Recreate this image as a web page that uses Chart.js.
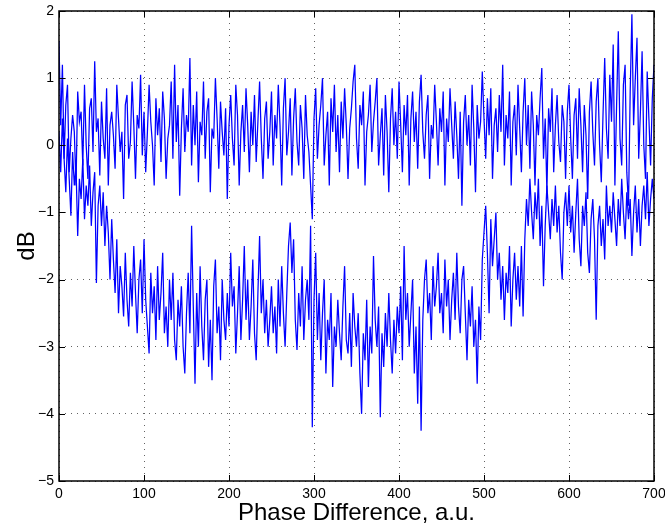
<!DOCTYPE html>
<html>
<head>
<meta charset="utf-8">
<script src="https://cdn.jsdelivr.net/npm/chart.js@4"></script>
<style>
  html, body { margin: 0; padding: 0; background: #fff; }
  #wrap { width: 665px; height: 529px; }
</style>
</head>
<body>
<div id="wrap"><canvas id="phasePlot"></canvas></div>
<script>
// x positions: one sample every 2 units of phase difference, from 0 to 700
const phaseStart = 0;
const phaseStep = 2;

// trace that stays around 0 dB
const upperDb = [
  1.55, 0.3, 1.2, -0.2, 0.6, 0.9, -0.4, 0.1, 0.45, 0.2, -0.6, 0.8, 0.35, 0.5, -0.3, 0.9, 0.0, -0.5, 0.55, 0.7, -0.1, 1.25, 0.2, 0.4, -0.45,
  0.65, 0.1, -0.2, 0.85, -0.6, 0.3, 0.5, 0.15, -0.35, 0.9, 0.4, -0.1, 0.2, -0.8, 0.6, 0.75, -0.2, 0.05, 0.95, 0.3, -0.5, 0.45, 0.25, 1.05, -0.15,
  0.5, -0.4, 0.2, 0.9, 0.35, 0.0, -0.6, 0.7, 0.15, 0.55, -0.25, 0.8, 0.4, -0.5, 0.1, 0.3, 0.95, -0.2, 1.2, 0.05, 0.6, -0.75, 0.25, 0.85, -0.1,
  0.45, 0.2, 1.3, -0.3, 0.6, 0.0, 0.8, -0.55, 0.35, 0.15, 0.95, -0.2, 0.5, 0.7, -0.7, 0.25, 0.1, 1.0, 0.4, -0.35, 0.65, 0.2, -0.15, 0.55, -0.8,
  0.3, 0.75, 0.1, -0.3, 0.9, 0.45, -0.6, 0.2, 0.6, -0.1, 0.85, 0.3, -0.4, 0.5, 0.0, 0.75, -0.25, 0.35, 0.95, 0.1, -0.5, 0.4, 0.65, -0.2, 0.2,
  0.8, -0.3, 0.45, 0.1, 0.9, 0.3, -0.6, 0.55, 1.0, -0.15, 0.2, 0.7, -0.45, 0.4, 0.85, 0.05, -0.3, 0.6, 0.25, -0.5, 0.75, 0.15, -0.1, -0.6, -1.1,
  0.4, 0.85, -0.2, 0.3, 0.6, 1.0, -0.3, 0.15, 0.5, -0.6, 0.7, 0.2, 0.9, -0.1, 0.45, -0.4, 0.65, 0.1, 0.85, 0.3, -0.5, 0.25, 0.55, 0.95, 1.2,
  0.1, -0.35, 0.6, 0.3, 0.8, -0.6, 0.2, 0.45, 0.9, -0.1, 0.35, 0.65, 1.0, -0.3, 0.15, 0.55, -0.45, 0.75, 0.2, -0.7, 0.4, 0.85, 0.0, 0.5, -0.2,
  0.95, 0.3, -0.4, 0.6, 0.15, 0.75, -0.6, 0.4, 0.8, 0.05, 0.5, -0.35, 0.65, 1.05, 0.2, -0.2, 0.45, 0.75, -0.5, 0.3, 0.1, 0.9, 0.35, -0.3, 0.55,
  0.2, 0.8, -0.6, 0.4, 0.05, 0.85, 0.3, -0.2, 0.65, 0.15, -0.5, 0.5, -0.9, 0.35, 0.75, 0.0, 0.45, -0.3, 0.9, 0.25, -0.7, 0.6, 0.1, 0.35, 1.1,
  0.4, -0.2, 0.7, 0.15, 0.85, -0.5, 0.3, 0.55, -0.1, 0.75, 0.2, 1.2, -0.3, 0.45, 0.1, 0.8, -0.6, 0.35, 0.6, -0.15, 0.9, 0.25, -0.4, 0.5, 1.0,
  0.0, 0.6, -0.35, 0.8, 0.3, -0.6, 0.45, 0.15, 0.7, 1.15, -0.2, 0.4, -0.7, 0.55, 0.2, 0.85, -0.4, 0.3, 0.75, 0.05, -0.25, 0.6, 0.35, -0.5, 0.5,
  0.9, 0.1, -0.5, 0.45, 0.7, -0.2, 0.85, 0.3, -0.4, 0.6, 0.15, -0.8, 0.5, 0.95, 0.2, -0.3, 0.65, 1.0, 0.0, -0.55, 0.45, 1.3, 0.25, -0.2, 1.05,
  0.35, 1.5, -0.6, 0.6, 1.7, 0.1, -0.3, 0.9, 1.2, -0.4, -0.9, 0.8, 1.95, 0.3, 1.0, 1.6, -0.2, 0.5, 1.4, 0.0, -0.5, 1.1, 0.4, -0.3, 0.7,
  1.2
];

// trace that drops to about -2.5 dB between ~80 and ~500
const lowerDb = [
  0.2, -0.4, 0.4, -0.2, -0.7, 0.1, -0.5, -1.05, -0.1, -0.6, -0.3, -1.35, -0.5, -0.8, -0.2, -1.1, -0.6, -0.9, -0.3, -1.2, -0.7, -0.4, -2.05, -0.9, -0.6,
  -1.2, -0.7, -1.5, -0.9, -1.3, -2.0, -1.1, -1.7, -2.2, -1.4, -2.5, -1.8, -2.1, -2.55, -1.6, -2.3, -2.7, -1.9, -2.4, -1.5, -2.2, -2.8, -2.0, -1.7, -2.5,
  -1.4, -2.3, -2.7, -3.1, -1.9, -2.5, -2.1, -2.9, -1.8, -2.6, -2.2, -1.6, -2.8, -2.4, -3.0, -2.0, -2.6, -1.9, -2.9, -3.2, -2.3, -2.7, -2.1, -3.0, -3.4,
  -2.5, -1.9, -2.8, -1.2, -2.4, -3.55, -2.2, -3.0, -1.8, -2.7, -3.2, -2.3, -2.0, -3.3, -2.6, -3.5, -2.1, -1.7, -2.8, -2.4, -3.2, -2.0, -2.6, -2.9, -2.2,
  -2.7, -1.6, -2.4, -2.1, -3.1, -2.5, -1.8, -2.9, -2.3, -1.5, -2.6, -2.0, -2.9, -2.4, -1.7, -2.8, -3.2, -2.2, -1.35, -2.5, -2.0, -2.8, -2.3, -3.0, -2.6,
  -2.1, -2.8, -2.4, -3.1, -2.0, -2.7, -1.8, -2.5, -3.0, -2.2, -1.5, -1.15, -1.9, -1.4, -2.6, -3.05, -2.2, -2.7, -1.8, -2.9, -2.3, -2.0, -2.6, -1.2, -4.2,
  -2.3, -1.6, -2.9, -2.2, -3.2, -2.5, -2.0, -3.4, -2.6, -2.9, -2.2, -3.6, -2.7, -3.0, -2.3, -2.8, -3.2, -2.4, -1.8, -2.9, -3.1, -2.5, -3.3, -2.2, -2.7,
  -3.0, -2.5, -3.4, -4.0, -2.8, -3.2, -2.3, -3.6, -2.7, -3.1, -1.65, -2.6, -3.0, -2.4, -4.05, -2.8, -3.3, -2.5, -3.0, -2.2, -2.9, -3.4, -2.6, -3.1, -2.4,
  -2.8, -2.1, -3.2, -1.5, -2.6, -2.2, -3.0, -2.5, -2.0, -3.4, -2.7, -3.85, -2.4, -4.25, -2.6, -2.0, -1.7, -2.5, -2.2, -2.9, -1.8, -2.4, -2.1, -1.6, -2.5,
  -2.2, -2.8, -1.7, -2.4, -2.0, -2.9, -2.3, -1.9, -2.6, -1.6, -2.4, -2.8, -2.0, -1.8, -2.5, -3.2, -2.3, -2.7, -2.1, -3.0, -2.6, -3.55, -2.4, -2.9, -1.7,
  -1.3, -0.9, -1.6, -2.5, -1.1, -1.8, -1.4, -1.0, -2.0, -1.6, -2.3, -1.8, -2.6, -1.9, -2.2, -1.5, -2.7, -2.0, -1.6, -2.3, -1.8, -2.4, -1.5, -2.55, -1.4,
  -0.8, -1.2, -0.5, -1.0, -1.4, -0.7, -1.1, -0.5, -1.5, -0.9, -2.1, -1.2, -0.6, -1.0, -1.4, -0.8, -1.2, -0.6, -1.3, -0.9, -1.6, -2.0, -1.0, -0.7, -1.2,
  -0.6, -1.3, -0.9, -1.6, -1.0, -0.5, -1.4, -1.8, -0.9, -1.2, -0.7, -1.6, -1.9, -1.1, -0.8, -1.4, -2.6, -1.2, -0.9, -1.5, -1.1, -1.7, -0.6, -1.2, -0.9,
  -1.3, -0.7, -1.1, -1.5, -0.8, -1.2, -0.5, -1.0, -1.4, -0.7, -1.1, -0.8, -1.65, -1.0, -0.6, -1.3, -0.8, -1.5, -0.9, -0.6, -1.1, -0.4, -1.2, -0.8, -0.5,
  -0.8
];

const xTicks = [0, 100, 200, 300, 400, 500, 600, 700];
const yTicks = [-5, -4, -3, -2, -1, 0, 1, 2];

const toPoints = (vals) => vals.map((v, i) => ({x: phaseStart + i * phaseStep, y: v}));

const fontFam = "'Liberation Sans', Arial, Helvetica, sans-serif";

// box round the plot plus small inward tick marks, matlab style
const frameBox = {
  id: 'frameBox',
  afterDraw(chart) {
    const {ctx, chartArea: a, scales} = chart;
    ctx.save();
    ctx.strokeStyle = '#000';
    ctx.lineWidth = 1;
    ctx.beginPath();
    xTicks.forEach(t => {
      let px = Math.round(scales.x.getPixelForValue(t)) + 0.5;
      ctx.moveTo(px, a.bottom); ctx.lineTo(px, a.bottom - 6);
      ctx.moveTo(px, a.top); ctx.lineTo(px, a.top + 6);
    });
    yTicks.forEach(t => {
      let py = Math.round(scales.y.getPixelForValue(t)) + 0.5;
      ctx.moveTo(a.left, py); ctx.lineTo(a.left + 6, py);
      ctx.moveTo(a.right, py); ctx.lineTo(a.right - 6, py);
    });
    ctx.stroke();
    ctx.lineWidth = 1.5;
    ctx.strokeRect(a.left, a.top, a.right - a.left, a.bottom - a.top);
    ctx.restore();
  }
};

new Chart(document.getElementById('phasePlot'), {
  type: 'line',
  data: {
    datasets: [
      {label: 'upper', data: toPoints(upperDb), borderColor: '#0000ff', borderWidth: 1.25, pointRadius: 0, tension: 0, fill: false},
      {label: 'lower', data: toPoints(lowerDb), borderColor: '#0000ff', borderWidth: 1.25, pointRadius: 0, tension: 0, fill: false}
    ]
  },
  options: {
    responsive: true,
    maintainAspectRatio: false,
    animation: false,
    events: [],
    layout: {padding: {top: 11, right: 11, left: 0, bottom: 0}},
    plugins: {legend: {display: false}, tooltip: {enabled: false}},
    scales: {
      x: {
        type: 'linear',
        min: 0, max: 700,
        afterBuildTicks: (s) => { s.ticks = xTicks.map(v => ({value: v})); },
        // let the 700 label run off the right edge like the original
        afterFit: (s) => { s.height = 48; s.paddingRight = 0; s.paddingLeft = 0; },
        grid: {color: 'rgba(60,60,60,0.8)', lineWidth: 1, drawTicks: false},
        border: {display: false, dash: [1, 5]},
        ticks: {color: '#000', font: {family: fontFam, size: 14}, padding: 5, maxRotation: 0, autoSkip: false},
        title: {display: true, text: 'Phase Difference, a.u.', color: '#000', font: {family: fontFam, size: 24}, padding: {top: 0, bottom: 1}}
      },
      y: {
        type: 'linear',
        min: -5, max: 2,
        afterBuildTicks: (s) => { s.ticks = yTicks.map(v => ({value: v})); },
        afterFit: (s) => { s.width = 59; s.paddingTop = 0; s.paddingBottom = 0; },
        grid: {color: 'rgba(60,60,60,0.8)', lineWidth: 1, drawTicks: false},
        border: {display: false, dash: [1, 5]},
        ticks: {color: '#000', font: {family: fontFam, size: 14}, padding: 5,
          callback: (v) => String(v).replace('-', '\u2212')},
        title: {display: true, text: 'dB', color: '#000', font: {family: fontFam, size: 24}, padding: {top: 13, bottom: 0}}
      }
    }
  },
  plugins: [frameBox]
});
</script>
</body>
</html>
